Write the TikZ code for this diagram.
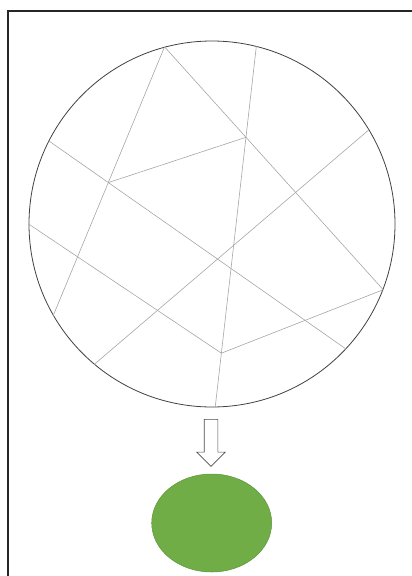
\documentclass[tikz,border=0pt]{standalone}
\usetikzlibrary{calc,shapes.geometric,shapes.arrows}
\definecolor{leafgreen}{RGB}{112,173,71}
\definecolor{leafedge}{RGB}{92,150,58}

\begin{document}
\begin{tikzpicture}[x=1pt,y=-1pt,
  crack/.style={draw=gray!70,line width=0.6pt},
  disc/.style={draw=black!75,circle,line width=0.8pt,minimum size=366pt,inner sep=0pt},
  down/.style={draw=black!70,single arrow,rotate=-90,line width=0.6pt,inner xsep=0pt,inner ysep=6.5pt,
    minimum height=47pt,single arrow head extend=7.5pt,single arrow head indent=0pt},
  blob/.style={ellipse,fill=leafgreen,draw=leafedge,line width=0.5pt,minimum width=120pt,minimum height=98pt}]
  \useasboundingbox (0,0) rectangle (412,576);
  % frame
  \draw[line width=2.5pt,black!85] (412,11) -- (8,11) -- (8,576);
  % disc
  \node[disc] (disc) at (212,224) {};
  \coordinate (a) at (disc.105.6);
  \coordinate (b) at (disc.76.4);
  \coordinate (c) at (disc.31.5);
  \coordinate (d) at (disc.-21.2);
  \coordinate (e) at (disc.-43.4);
  \coordinate (f) at (disc.-89.7);
  \coordinate (g) at (disc.-130.7);
  \coordinate (h) at (disc.-150.8);
  \coordinate (i) at (disc.180);
  \coordinate (j) at (disc.153.6);
  \coordinate (k) at (intersection of a--h and j--e);
  \coordinate (l) at (intersection of a--d and b--f);
  \coordinate (m) at ($(b)!0.85!(f)$);
  % cracks
  \draw[crack] (a) -- (h);
  \draw[crack] (j) -- (e);
  \draw[crack] (k) -- (l);
  \draw[crack] (a) -- (d);
  \draw[crack] (b) -- (f);
  \draw[crack] (i) -- (m) -- (d);
  \draw[crack] (c) -- (g);
  % arrow and result
  \node[down] (arrow) at (211,439.5) {};
  \node[blob] (grain) at (211.7,523) {};
\end{tikzpicture}
\end{document}
